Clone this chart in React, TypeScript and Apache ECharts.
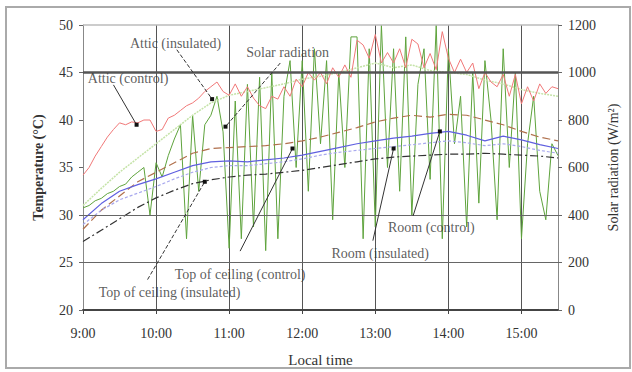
import React, { useEffect, useRef } from "react";
import * as echarts from "echarts";

// minutes after 9:00
const xTickLabels = ["9:00", "10:00", "11:00", "12:00", "13:00", "14:00", "15:00"];
const tempTicks = [20, 50, 5];
const solarTicks = [0, 1200, 200];

const fiveMin = Array.from({ length: 79 }, (_, i) => i * 5);
const quarter = Array.from({ length: 27 }, (_, i) => i * 15);

const atticControl = [34.2, 35, 36.2, 37.2, 38.2, 39, 39.7, 39.5, 39.8, 39.7, 40, 40, 38.8, 39, 40.2, 40.5, 41, 41.5, 41.8, 42.3, 43, 43.5, 44, 43, 42.6, 43.8, 42.5, 43.5, 42.3, 41.5, 41.2, 42.5, 42.2, 43.5, 42.5, 44.3, 43.5, 45, 44.2, 45, 43.8, 45.5, 44.5, 45.8, 44.5, 48.4, 47.9, 46.5, 49, 46, 47.1, 46, 47.5, 45.5, 48.5, 48, 45.5, 47, 45.3, 49.3, 46.5, 45, 46.4, 45, 46, 43.3, 45, 44, 43.5, 44.8, 42.5, 44.8, 41.7, 43.5, 42, 43.8, 42.8, 43.5, 43.3];
const solarRadiation = [430, 440, 460, 470, 490, 500, 520, 530, 560, 580, 600, 400, 620, 560, 650, 720, 780, 300, 820, 500, 780, 820, 900, 750, 260, 880, 300, 950, 350, 980, 250, 1000, 300, 900, 1050, 600, 1050, 500, 1100, 700, 1050, 380, 1000, 600, 1150, 1150, 300, 1100, 350, 1200, 600, 1100, 500, 1150, 400, 950, 1100, 550, 1200, 300, 1100, 700, 900, 350, 1000, 450, 1050, 800, 380, 1100, 600, 1000, 300, 700, 900, 500, 380, 700, 650];
const atticInsulated = [31, 32.8, 34.5, 36, 37.5, 39, 40.5, 41.8, 42.6, 43, 43.4, 43.8, 44.3, 44.6, 45, 45.5, 46, 45.5, 45.8, 45.2, 45, 44.8, 44.2, 43.8, 43.2, 42.8, 42.5];
const ceilingControl = [28.5, 30.5, 32, 33.5, 34.5, 35.5, 36.5, 37, 37.1, 37.2, 37.3, 37.5, 37.8, 38.2, 38.7, 39.2, 39.8, 40.2, 40.5, 40.3, 40.6, 40.5, 40, 39.5, 38.8, 38.2, 37.8];
const ceilingInsulated = [27.2, 28.4, 29.6, 30.8, 31.8, 32.6, 33.3, 33.7, 34, 34.2, 34.3, 34.5, 34.7, 35, 35.3, 35.6, 35.9, 36.1, 36.2, 36.3, 36.4, 36.4, 36.5, 36.4, 36.3, 36.2, 36];
const roomControl = [29.5, 31.2, 32.5, 33.2, 33.8, 34.5, 35.2, 35.6, 35.7, 35.6, 35.8, 36, 36.3, 36.7, 37.1, 37.5, 37.8, 38.1, 38.3, 38.6, 38.8, 38.4, 37.8, 38.3, 37.9, 37.4, 37];
const roomInsulated = [29, 30.5, 31.6, 32.3, 33, 33.8, 34.5, 35, 35.2, 35.2, 35.4, 35.6, 35.9, 36.3, 36.6, 36.8, 37, 37.2, 37.4, 37.6, 37.8, 37.6, 37.3, 37.5, 37.2, 36.8, 36.5];

// annotation labels: [text, x(min), temp]
const annLabels: [string, number, number][] = [
  ["Attic (insulated)", 76, 48.1],
  ["Attic (control)", 37, 44.4],
  ["Solar radiation", 168, 47.1],
  ["Top of ceiling (control)", 129, 23.7],
  ["Top of ceiling (insulated)", 71, 21.8],
  ["Room (control)", 286, 28.7],
  ["Room (insulated)", 244, 26.0],
];
// leaders: [x1, y1, x2, y2, dashed]
const leaders: [number, number, number, number, boolean][] = [
  [77, 47.4, 106, 42.2, true],
  [25, 43.7, 44, 39.5, false],
  [162, 46.0, 117, 39.3, true],
  [129, 26.2, 172, 37.0, false],
  [53, 23.2, 100, 33.5, true],
  [271, 29.9, 293, 38.8, false],
  [238, 27.3, 255, 37.0, false],
];
const gridTemps = [45, 30, 25];

const FONT = "'Liberation Serif', 'Times New Roman', serif";

export default function App() {
  const ref = useRef<HTMLDivElement>(null);
  useEffect(() => {
    document.body.style.margin = "0";
    const chart = echarts.init(ref.current!, null, { renderer: "svg" });
    const zip = (xs: number[], ys: number[]) => xs.map((x, i) => [x, ys[i]]);
    const mkLine = (name: string, xs: number[], ys: number[], color: string, type: any, width = 1, yAxisIndex = 0) => ({
      name,
      type: "line",
      yAxisIndex,
      data: zip(xs, ys),
      showSymbol: false,
      lineStyle: { color, width, type },
      silent: true,
      z: 3,
    });
    const leaderSeries = leaders.map(([x1, y1, x2, y2, dashed]) => ({
      type: "line",
      data: [
        { value: [x1, y1], symbol: "none" },
        { value: [x2, y2], symbol: "rect", symbolSize: 4 },
      ],
      showSymbol: true,
      itemStyle: { color: "#111" },
      lineStyle: { color: "#333", width: 1, type: dashed ? [4, 2] : "solid" },
      silent: true,
      z: 5,
    }));
    chart.setOption({
      animation: false,
      textStyle: { fontFamily: FONT },
      grid: { left: 83, right: 74, top: 25, bottom: 57 },
      graphic: [
        {
          type: "rect",
          shape: { x: 6, y: 7, width: 624, height: 361 },
          style: { fill: "none", stroke: "#aaa", lineWidth: 2 },
          silent: true,
        },
      ],
      xAxis: {
        type: "value",
        min: 0,
        max: 390,
        interval: 60,
        name: "Local time",
        nameLocation: "middle",
        nameGap: 42,
        nameTextStyle: { fontFamily: FONT, fontSize: 15, color: "#333" },
        axisLine: { lineStyle: { color: "#444", width: 2 } },
        axisTick: { show: true, length: 4, lineStyle: { color: "#444" } },
        axisLabel: {
          margin: 16,
          fontFamily: FONT,
          fontSize: 14,
          color: "#333",
          showMaxLabel: false,
          formatter: (v: number) => xTickLabels[Math.round(v / 60)] ?? "",
        },
        splitLine: { show: true, lineStyle: { color: "#555", width: 1 } },
      },
      yAxis: [
        {
          type: "value",
          min: tempTicks[0],
          max: tempTicks[1],
          interval: tempTicks[2],
          name: "Temperature (°C)",
          nameLocation: "middle",
          nameGap: 38,
          nameRotate: 90,
          nameTextStyle: { fontFamily: FONT, fontSize: 14, color: "#333", fontWeight: "bold" },
          axisLine: { show: true, lineStyle: { color: "#888" } },
          axisTick: { show: true, length: 4, lineStyle: { color: "#666" } },
          axisLabel: { margin: 10, fontFamily: FONT, fontSize: 14, color: "#333" },
          splitLine: { show: false },
        },
        {
          type: "value",
          min: solarTicks[0],
          max: solarTicks[1],
          interval: solarTicks[2],
          name: "Solar radiation (W/m²)",
          nameLocation: "middle",
          nameGap: 37,
          nameRotate: 90,
          nameTextStyle: { fontFamily: FONT, fontSize: 14, color: "#333" },
          axisLine: { show: true, lineStyle: { color: "#888" } },
          axisTick: { show: true, length: 4, lineStyle: { color: "#666" } },
          axisLabel: { margin: 10, fontFamily: FONT, fontSize: 14, color: "#333", formatter: (v: number) => String(v) },
          splitLine: { show: false },
        },
      ],
      series: [
        {
          type: "line",
          data: [],
          silent: true,
          markLine: {
            silent: true,
            symbol: "none",
            label: { show: false },
            data: [
              ...gridTemps.map((t, i) => ({
                yAxis: t,
                lineStyle: { color: i === 0 ? "#555" : "#666", width: i === 0 ? 2.5 : 1, type: "solid" },
              })),
              { yAxis: tempTicks[1], lineStyle: { color: "#bbb", width: 1.5, type: "solid" } },
            ],
          },
        },
        mkLine("Solar radiation", fiveMin, solarRadiation, "#5ea33c", "solid", 1, 1),
        mkLine("Attic (insulated)", quarter, atticInsulated, "#c5e3a8", [2, 1], 1.5),
        mkLine("Attic (control)", fiveMin, atticControl, "#f07878", "solid", 1),
        mkLine("Top of ceiling (control)", quarter, ceilingControl, "#b0704c", [8, 4], 1.2),
        mkLine("Room (control)", quarter, roomControl, "#6060e0", "solid", 1.2),
        mkLine("Room (insulated)", quarter, roomInsulated, "#a8a8ee", [3, 2], 1.2),
        mkLine("Top of ceiling (insulated)", quarter, ceilingInsulated, "#333", [8, 3, 2, 3], 1.2),
        ...leaderSeries,
        {
          type: "scatter",
          symbolSize: 0,
          silent: true,
          z: 6,
          data: annLabels.map(([n, x, y]) => ({ name: n, value: [x, y] })),
          label: {
            show: true,
            position: "inside",
            formatter: "{b}",
            fontFamily: FONT,
            fontSize: 14,
            color: "#333",
          },
        },
      ],
    });
    return () => chart.dispose();
  }, []);
  return <div ref={ref} style={{ width: 632, height: 372 }} />;
}
